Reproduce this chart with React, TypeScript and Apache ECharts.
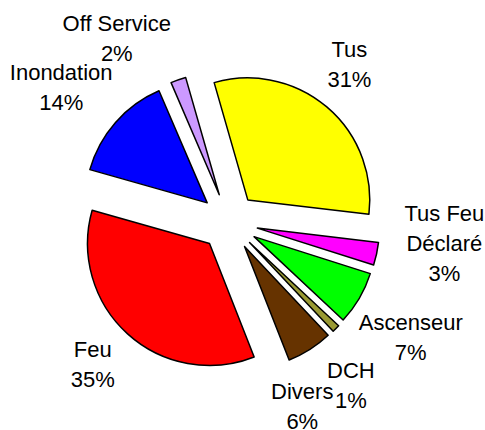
import React, { useEffect, useRef } from "react";
import * as echarts from "echarts";

const categories = ["Tus", "Tus Feu Déclaré", "Ascenseur", "DCH", "Divers", "Feu", "Inondation", "Off Service"];
const labelNames = ["Tus", "Tus Feu\nDéclaré", "Ascenseur", "DCH", "Divers", "Feu", "Inondation", "Off Service"];
const values = [31, 3, 7, 1, 6, 35, 14, 2];
const colors = ["#FFFF00", "#FF00FF", "#00FF00", "#999933", "#663300", "#FF0000", "#0000FF", "#CC99FF"];
const labelShift = [
  [-13, -1],
  [14, -22],
  [4, 11],
  [-24, 18],
  [-37, 10],
  [2, -10],
  [-13, 1],
  [-43, 11],
];

export default function App() {
  const ref = useRef<HTMLDivElement>(null);
  useEffect(() => {
    if (!ref.current) return;
    const chart = echarts.init(ref.current, null, { renderer: "svg" });
    const data = categories.map((name, i) => ({
      name,
      value: values[i],
      selected: true,
      itemStyle: { color: colors[i] },
    }));
    chart.setOption({
      animation: false,
      backgroundColor: "#ffffff",
      series: [
        {
          type: "pie",
          center: [229, 222],
          radius: 122,
          startAngle: 106,
          clockwise: true,
          selectedMode: "multiple",
          selectedOffset: 29,
          avoidLabelOverlap: false,
          itemStyle: { borderColor: "#000", borderWidth: 1.5 },
          select: { itemStyle: { borderColor: "#000", borderWidth: 1.5 } },
          emphasis: { disabled: true },
          label: {
            show: true,
            position: "outside",
            alignTo: "none",
            distanceToLabelLine: 0,
            formatter: (p: any) => `${labelNames[p.dataIndex]}\n${p.value}%`,
            fontFamily: "'Liberation Sans', Arial, sans-serif",
            fontSize: 22,
            lineHeight: 30,
            color: "#000",
          },
          labelLine: { show: false, length: 55, length2: 0 },
          labelLayout: (p: any) => ({
            align: "center",
            verticalAlign: "middle",
            dx: labelShift[p.dataIndex][0],
            dy: labelShift[p.dataIndex][1],
          }),
          data,
        },
      ],
    });
    return () => chart.dispose();
  }, []);
  return (
    <div
      ref={ref}
      style={{ position: "fixed", left: 0, top: 0, width: 485, height: 430 }}
    />
  );
}
